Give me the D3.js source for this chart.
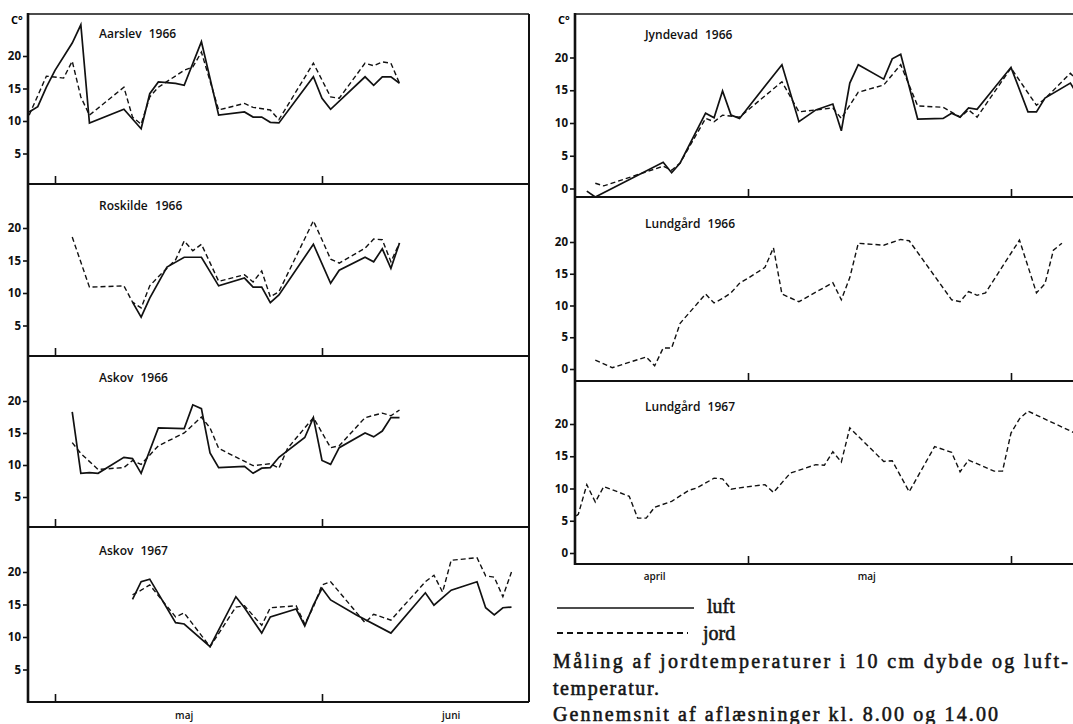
<!DOCTYPE html>
<html>
<head>
<meta charset="utf-8">
<script src="https://cdn.jsdelivr.net/npm/d3@7"></script>
<style>
	html, body { margin: 0; padding: 0; background: #fff; }
	svg { display: block; }
	.axis text { font-family: "Open Sans", sans-serif; font-size: 11.5px; font-weight: 700; fill: #111; }
	.axis line { stroke: #111; stroke-width: 1.6; }
	.title { font-family: "Open Sans", sans-serif; font-size: 12px; font-weight: 600; word-spacing: 4px; fill: #111; }
	.month { font-family: "Open Sans", sans-serif; font-size: 10px; font-weight: 600; fill: #111; }
	.serif { font-family: "Liberation Serif", "DejaVu Serif", serif; font-size: 20px; font-weight: 400; fill: #151515; stroke: #151515; stroke-width: 0.55; }
</style>
</head>
<body>
<svg id="chart" width="1073" height="724"></svg>
<script>
// values: [date (MM-DD), °C]
// luft = air temperature (solid), jord = soil at 10 cm (dashed)

const aarslevLuft = [
	['04-28', 11.4], ['04-29', 12.2], ['04-30', 15.2], ['05-01', 17.8], ['05-03', 22.0], ['05-04', 24.8],
	['05-05', 9.7], ['05-09', 11.8], ['05-11', 8.8], ['05-12', 14.2], ['05-13', 16.0], ['05-15', 15.8],
	['05-16', 15.5], ['05-18', 22.2], ['05-20', 10.9], ['05-23', 11.4], ['05-24', 10.6], ['05-25', 10.6],
	['05-26', 9.8], ['05-27', 9.7], ['05-31', 16.8], ['06-01', 13.5], ['06-02', 11.8], ['06-06', 16.8],
	['06-07', 15.5], ['06-08', 16.8], ['06-09', 16.8], ['06-10', 15.8],
]
const aarslevJord = [
	['04-28', 10.9], ['04-30', 16.9], ['05-02', 16.6], ['05-03', 19.2], ['05-04', 13.7], ['05-05', 10.9],
	['05-09', 15.2], ['05-10', 10.6], ['05-11', 9.5], ['05-12', 13.7], ['05-13', 15.2], ['05-16', 17.8],
	['05-17', 18.3], ['05-18', 20.6], ['05-20', 11.7], ['05-23', 12.7], ['05-24', 12.1], ['05-26', 11.7],
	['05-27', 10.2], ['05-31', 18.9], ['06-02', 13.7], ['06-03', 13.5], ['06-06', 18.9], ['06-07', 18.5],
	['06-08', 19.1], ['06-09', 18.9], ['06-10', 15.8],
]

const roskildeLuft = [
	['05-10', 8.6], ['05-11', 6.3], ['05-12', 9.2], ['05-14', 14.0], ['05-16', 15.5], ['05-18', 15.5],
	['05-20', 11.1], ['05-23', 12.3], ['05-24', 10.9], ['05-25', 10.9], ['05-26', 8.5], ['05-27', 9.7],
	['05-31', 17.5], ['06-02', 11.5], ['06-03', 13.5], ['06-06', 15.5], ['06-07', 14.8], ['06-08', 16.8],
	['06-09', 13.8], ['06-10', 17.7],
]
const roskildeJord = [
	['05-03', 18.6], ['05-05', 10.9], ['05-09', 11.1], ['05-10', 8.6], ['05-11', 7.7], ['05-12', 11.1],
	['05-13', 12.5], ['05-15', 15.1], ['05-16', 18.0], ['05-17', 16.5], ['05-18', 17.5], ['05-20', 11.8],
	['05-23', 12.8], ['05-24', 11.7], ['05-25', 13.4], ['05-26', 9.4], ['05-27', 10.2], ['05-31', 21.1],
	['06-01', 18.2], ['06-02', 15.2], ['06-03', 14.6], ['06-06', 16.9], ['06-07', 18.3], ['06-08', 18.2],
	['06-09', 14.8], ['06-10', 17.7],
]

const askov66Luft = [
	['05-03', 18.3], ['05-04', 8.7], ['05-05', 8.8], ['05-06', 8.7], ['05-09', 11.2], ['05-10', 11.0],
	['05-11', 8.7], ['05-13', 15.8], ['05-16', 15.7], ['05-17', 19.4], ['05-18', 18.8], ['05-19', 11.9],
	['05-20', 9.6], ['05-23', 9.8], ['05-24', 8.7], ['05-25', 9.5], ['05-26', 9.6], ['05-27', 11.2],
	['05-30', 14.3], ['05-31', 17.4], ['06-01', 10.7], ['06-02', 10.1], ['06-03', 12.7], ['06-06', 15.0],
	['06-07', 14.4], ['06-08', 15.3], ['06-09', 17.4], ['06-10', 17.4],
]
const askov66Jord = [
	['05-03', 13.5], ['05-04', 11.8], ['05-06', 9.3], ['05-09', 9.6], ['05-10', 10.7], ['05-11', 10.1],
	['05-13', 13.0], ['05-16', 15.0], ['05-18', 17.5], ['05-19', 15.8], ['05-20', 12.6], ['05-24', 9.9],
	['05-26', 10.2], ['05-27', 9.5], ['05-28', 12.6], ['05-31', 17.4], ['06-02', 12.7], ['06-03', 13.0],
	['06-06', 17.4], ['06-08', 18.1], ['06-09', 17.7], ['06-10', 18.6],
]

const askov67Luft = [
	['05-10', 15.8], ['05-11', 18.5], ['05-12', 18.9], ['05-15', 12.2], ['05-16', 12.0], ['05-19', 8.5],
	['05-22', 16.2], ['05-23', 14.5], ['05-25', 10.6], ['05-26', 13.1], ['05-29', 14.3], ['05-30', 11.7],
	['05-31', 14.9], ['06-01', 17.5], ['06-02', 15.7], ['06-05', 13.4], ['06-09', 10.6], ['06-13', 16.8],
	['06-14', 14.9], ['06-16', 17.2], ['06-19', 18.5], ['06-20', 14.5], ['06-21', 13.4], ['06-22', 14.5],
	['06-23', 14.6],
]
const askov67Jord = [
	['05-10', 16.5], ['05-11', 17.2], ['05-12', 18.0], ['05-15', 13.1], ['05-16', 13.7], ['05-19', 8.5],
	['05-22', 14.6], ['05-23', 14.8], ['05-25', 11.8], ['05-26', 14.5], ['05-29', 14.8], ['05-30', 12.0],
	['05-31', 14.6], ['06-01', 18.0], ['06-02', 18.5], ['06-06', 12.2], ['06-07', 13.5], ['06-09', 12.6],
	['06-13', 18.5], ['06-14', 19.5], ['06-15', 16.9], ['06-16', 21.8], ['06-19', 22.2], ['06-20', 19.4],
	['06-21', 19.2], ['06-22', 16.2], ['06-23', 20.0],
]

const jyndevadLuft = [
	['04-12', -0.4], ['04-13', -1.3], ['04-21', 4.0], ['04-22', 2.4], ['04-23', 3.9], ['04-26', 11.5],
	['04-27', 10.8], ['04-28', 14.9], ['04-29', 11.2], ['04-30', 10.7], ['05-05', 18.9], ['05-07', 10.2],
	['05-09', 12.0], ['05-11', 12.9], ['05-12', 8.8], ['05-13', 16.1], ['05-14', 18.9], ['05-17', 16.7],
	['05-18', 19.8], ['05-19', 20.5], ['05-21', 10.6], ['05-24', 10.7], ['05-25', 11.5], ['05-26', 10.9],
	['05-27', 12.3], ['05-28', 12.1], ['06-01', 18.5], ['06-03', 11.7], ['06-04', 11.7], ['06-05', 13.8],
	['06-08', 16.1], ['06-09', 14.0],
]
const jyndevadJord = [
	['04-13', 0.8], ['04-14', 0.4], ['04-21', 3.4], ['04-22', 2.8], ['04-23', 3.9], ['04-26', 10.7],
	['04-27', 10.2], ['04-28', 11.2], ['04-30', 10.9], ['05-05', 16.3], ['05-07', 11.7], ['05-09', 12.0],
	['05-11', 12.3], ['05-12', 10.7], ['05-14', 14.7], ['05-17', 15.8], ['05-19', 18.9], ['05-21', 12.6],
	['05-24', 12.4], ['05-26', 10.9], ['05-27', 12.0], ['05-28', 10.9], ['06-01', 18.4], ['06-04', 12.7],
	['06-05', 13.7], ['06-08', 17.6], ['06-09', 16.2],
]

const lundgaard66Jord = [
	['04-13', 1.4], ['04-15', 0.2], ['04-19', 1.9], ['04-20', 0.5], ['04-21', 3.3], ['04-22', 3.3],
	['04-23', 7.2], ['04-26', 11.8], ['04-27', 10.4], ['04-28', 11.1], ['04-29', 12.0], ['04-30', 13.5],
	['05-01', 14.3], ['05-03', 16.0], ['05-04', 19.1], ['05-05', 11.8], ['05-07', 10.6], ['05-11', 13.6],
	['05-12', 10.9], ['05-13', 14.4], ['05-14', 19.8], ['05-17', 19.5], ['05-19', 20.4], ['05-20', 20.2],
	['05-25', 10.9], ['05-26', 10.6], ['05-27', 12.2], ['05-28', 11.6], ['05-29', 12.0], ['06-02', 20.3],
	['06-04', 12.0], ['06-05', 13.4], ['06-06', 18.7], ['06-07', 19.8],
]

const lundgaard67Jord = [
	['04-10', 5.0], ['04-11', 6.0], ['04-12', 10.6], ['04-13', 7.9], ['04-14', 10.3], ['04-17', 8.8],
	['04-18', 5.4], ['04-19', 5.4], ['04-20', 7.1], ['04-22', 8.0], ['04-24', 9.7], ['04-25', 10.1],
	['04-27', 11.6], ['04-28', 11.5], ['04-29', 9.9], ['04-30', 10.1], ['05-03', 10.6], ['05-04', 9.4],
	['05-06', 12.4], ['05-09', 13.7], ['05-10', 13.6], ['05-11', 15.7], ['05-12', 14.1], ['05-13', 19.4],
	['05-17', 14.2], ['05-18', 14.3], ['05-20', 9.5], ['05-23', 16.5], ['05-25', 15.6], ['05-26', 12.6],
	['05-27', 14.4], ['05-30', 12.7], ['05-31', 12.7], ['06-01', 18.6], ['06-02', 20.8], ['06-03', 22.0],
	['06-09', 18.3],
]

const leftTicksY = [5, 10, 15, 20]
const rightTicksY = [0, 5, 10, 15, 20]
const leftMonths = [['maj', '05-16'], ['juni', '06-16']]
const rightMonths = [['april', '04-20'], ['maj', '05-15']]
const legendLabels = ['luft', 'jord']
const captionLines = [
	'Måling af jordtemperaturer i 10 cm dybde og luft-',
	'temperatur.',
	'Gennemsnit af aflæsninger kl. 8.00 og 14.00',
]

// layout (pixels)
const leftBlock = {x0: 28, x1: 529, monthX: [55, 322], monthY: 719, labelX: 99}
const rightBlock = {x0: 575, x1: 1076, monthX: [748, 1011], monthY: 580, labelX: 645}

const leftPanels = [
	{name: 'Aarslev 1966', year: 1966, top: 14, bottom: 184, y0: 186, y20: 56, titleY: 38, luft: aarslevLuft, jord: aarslevJord},
	{name: 'Roskilde 1966', year: 1966, top: 184, bottom: 356, y0: 358, y20: 228, titleY: 210, luft: roskildeLuft, jord: roskildeJord},
	{name: 'Askov 1966', year: 1966, top: 356, bottom: 527, y0: 529, y20: 401, titleY: 382, luft: askov66Luft, jord: askov66Jord},
	{name: 'Askov 1967', year: 1967, top: 527, bottom: 702, y0: 702, y20: 572, titleY: 555, luft: askov67Luft, jord: askov67Jord},
]
const rightPanels = [
	{name: 'Jyndevad 1966', year: 1966, top: 14, bottom: 197, y0: 188.5, y20: 57.5, titleY: 39, luft: jyndevadLuft, jord: jyndevadJord},
	{name: 'Lundgård 1966', year: 1966, top: 197, bottom: 381, y0: 369, y20: 242, titleY: 228, luft: null, jord: lundgaard66Jord},
	{name: 'Lundgård 1967', year: 1967, top: 381, bottom: 564, y0: 553, y20: 424, titleY: 411, luft: null, jord: lundgaard67Jord},
]

const parse = d3.timeParse('%Y-%m-%d')
const svg = d3.select('#chart')
const defs = svg.append('defs')
let clipCount = 0

function drawPanel(block, p, yTicks) {
	const x = d3.scaleTime()
		.domain([new Date(p.year, 4, 1), new Date(p.year, 5, 1)])
		.range(block.monthX)
	const y = d3.scaleLinear().domain([0, 20]).range([p.y0, p.y20])

	const clipId = 'clip' + clipCount++
	defs.append('clipPath').attr('id', clipId)
		.append('rect')
		.attr('x', block.x0).attr('y', p.top)
		.attr('width', block.x1 - block.x0).attr('height', p.bottom - p.top)

	const line = d3.line()
		.x(d => x(parse(`${p.year}-${d[0]}`)))
		.y(d => y(d[1]))

	const g = svg.append('g').attr('clip-path', `url(#${clipId})`)
	if (p.jord) {
		g.append('path').attr('d', line(p.jord))
			.attr('fill', 'none').attr('stroke', '#111').attr('stroke-width', 1.4)
			.attr('stroke-dasharray', '5,3')
	}
	if (p.luft) {
		g.append('path').attr('d', line(p.luft))
			.attr('fill', 'none').attr('stroke', '#111').attr('stroke-width', 1.7)
	}

	// y axis labels, ticks sticking out to the left
	const yAxis = svg.append('g').attr('class', 'axis')
		.attr('transform', `translate(${block.x0},0)`)
		.call(d3.axisLeft(y).tickValues(yTicks).tickSize(5).tickPadding(2))
	yAxis.select('.domain').remove()

	// month ticks pointing up from the bottom line
	const xAxis = svg.append('g').attr('class', 'axis')
		.attr('transform', `translate(0,${p.bottom})`)
		.call(d3.axisBottom(x)
			.tickValues([new Date(p.year, 4, 1), new Date(p.year, 5, 1)])
			.tickSize(-8).tickFormat(''))
	xAxis.select('.domain').remove()

	svg.append('text').attr('class', 'title')
		.attr('x', block.labelX).attr('y', p.titleY)
		.text(p.name)

	return x
}

function drawBlock(block, panels, yTicks, months) {
	let x
	panels.forEach(p => { x = drawPanel(block, p, yTicks) })

	const top = panels[0].top
	const bottom = panels[panels.length - 1].bottom
	const frame = svg.append('g').attr('stroke', '#111').attr('fill', 'none')
	frame.append('line').attr('x1', block.x0).attr('x2', block.x1)
		.attr('y1', top).attr('y2', top).attr('stroke-width', 1.6)
	frame.append('line').attr('x1', block.x1).attr('x2', block.x1)
		.attr('y1', top).attr('y2', bottom).attr('stroke-width', 2)
	panels.forEach(p => {
		frame.append('line').attr('x1', block.x0).attr('x2', block.x1)
			.attr('y1', p.bottom).attr('y2', p.bottom).attr('stroke-width', 2.2)
	})
	frame.append('line').attr('x1', block.x0).attr('x2', block.x0)
		.attr('y1', top - 1).attr('y2', bottom + 1).attr('stroke-width', 2.6)

	svg.append('text')
		.attr('x', block.x0 - 17).attr('y', top + 10)
		.style('font-family', '"Open Sans", sans-serif').style('font-size', '11px').style('font-weight', 700)
		.text('C°')

	const year = panels[panels.length - 1].year
	svg.selectAll(null).data(months).join('text')
		.attr('class', 'month')
		.attr('text-anchor', 'middle')
		.attr('x', d => x(parse(`${year}-${d[1]}`)))
		.attr('y', block.monthY)
		.text(d => d[0])
}

drawBlock(leftBlock, leftPanels, leftTicksY, leftMonths)
drawBlock(rightBlock, rightPanels, rightTicksY, rightMonths)

// legend
const legend = svg.append('g')
legend.append('line').attr('x1', 557).attr('x2', 694).attr('y1', 608).attr('y2', 608)
	.attr('stroke', '#111').attr('stroke-width', 1.4)
legend.append('line').attr('x1', 557).attr('x2', 688).attr('y1', 633).attr('y2', 633)
	.attr('stroke', '#111').attr('stroke-width', 1.8).attr('stroke-dasharray', '6,4')
legend.selectAll('text').data(legendLabels).join('text')
	.attr('class', 'serif')
	.attr('x', (d, i) => i === 0 ? 707 : 703)
	.attr('y', (d, i) => i === 0 ? 613 : 640)
	.text(d => d)

// caption (the last line runs off the bottom edge in the source)
const captionWidths = [515, 106, 445]
const captionY = [668, 695, 721]
svg.selectAll('text.caption').data(captionLines).join('text')
	.attr('class', 'serif caption')
	.attr('x', 553)
	.attr('y', (d, i) => captionY[i])
	.attr('textLength', (d, i) => captionWidths[i])
	.attr('lengthAdjust', 'spacing')
	.text(d => d)
</script>
</body>
</html>
